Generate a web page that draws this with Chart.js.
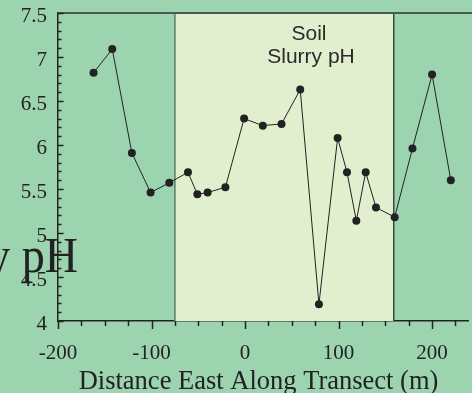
<!DOCTYPE html>
<html>
<head>
<meta charset="utf-8">
<script src="https://cdn.jsdelivr.net/npm/chart.js@4"></script>
<style>
  html, body { margin: 0; padding: 0; background: #9dd4b0; }
  canvas { display: block; }
</style>
</head>
<body>
<canvas id="chart" width="472" height="393"></canvas>
<script>
// transect distances (m) and slurry pH readings
const distance = [-162, -142, -121, -101, -81, -61, -51, -40, -21, -1, 19, 39, 59, 79, 99, 109, 119, 129, 140, 160, 179, 200, 220];
const slurryPH = [6.82, 7.09, 5.91, 5.46, 5.57, 5.69, 5.44, 5.46, 5.52, 6.30, 6.22, 6.24, 6.63, 4.19, 6.08, 5.69, 5.14, 5.69, 5.29, 5.18, 5.96, 6.80, 5.60];
const xTicks = [-200, -100, 0, 100, 200];
const yTicks = [4, 4.5, 5, 5.5, 6, 6.5, 7, 7.5];
// soil zone along the transect
const soilZone = [-75, 159];

const ink = '#222';

const bandPlugin = {
  id: 'band',
  beforeDatasetsDraw(chart) {
    const { ctx, chartArea: a, scales: { x } } = chart;
    const x0 = x.getPixelForValue(soilZone[0]);
    const x1 = x.getPixelForValue(soilZone[1]);
    ctx.save();
    ctx.fillStyle = '#e2efcf';
    ctx.fillRect(x0, a.top, x1 - x0, a.bottom - a.top);
    ctx.lineWidth = 1.5;
    ctx.strokeStyle = '#5d7a65';
    ctx.beginPath();
    ctx.moveTo(x0, a.top); ctx.lineTo(x0, a.bottom);
    ctx.stroke();
    ctx.strokeStyle = '#3c4a42';
    ctx.beginPath();
    ctx.moveTo(x1, a.top); ctx.lineTo(x1, a.bottom);
    ctx.stroke();
    ctx.strokeStyle = '#4a5a50';
    ctx.lineWidth = 2;
    ctx.beginPath();
    ctx.moveTo(a.left, a.top); ctx.lineTo(472, a.top);
    ctx.stroke();

    ctx.fillStyle = '#2a2a2a';
    ctx.font = '21px "Liberation Sans"';
    ctx.textAlign = 'center';
    ctx.textBaseline = 'alphabetic';
    ctx.fillText('Soil', 309, 40);
    ctx.fillText('Slurry pH', 311, 63);
    ctx.restore();
  },
  afterDraw(chart) {
    const { ctx, chartArea: a, scales: { x, y } } = chart;
    ctx.save();
    ctx.strokeStyle = ink;
    ctx.lineWidth = 1.5;
    // y ticks point into the plot, minor every 0.1
    for (let i = 0; i <= 35; i++) {
      const v = 4 + i * 0.1;
      const py = Math.round(y.getPixelForValue(v)) + 0.5;
      const len = i % 5 === 0 ? 5.5 : 3.5;
      ctx.beginPath();
      ctx.moveTo(a.left, py); ctx.lineTo(a.left + len, py);
      ctx.stroke();
    }
    // x ticks hang below the axis, minor every 25
    for (let v = -200; v <= 238; v += 25) {
      const px = Math.round(x.getPixelForValue(v)) + 0.5;
      const len = v % 100 === 0 ? 8 : 5;
      ctx.beginPath();
      ctx.moveTo(px, a.bottom); ctx.lineTo(px, a.bottom + len);
      ctx.stroke();
    }
    ctx.fillStyle = ink;
    // x axis title
    ctx.font = '26.5px "Liberation Serif"';
    ctx.textAlign = 'center';
    ctx.fillText('Distance East Along Transect (m)', 258.5, 389);
    // y axis title, stretched a little vertically
    ctx.font = '46px "Liberation Serif"';
    ctx.textAlign = 'right';
    ctx.translate(78, 272);
    ctx.scale(1, 1.12);
    ctx.fillText('Slurry pH', 0, 0);
    ctx.restore();
  }
};

new Chart(document.getElementById('chart').getContext('2d'), {
  type: 'line',
  data: {
    datasets: [{
      data: distance.map((d, i) => ({ x: d, y: slurryPH[i] })),
      borderColor: ink,
      borderWidth: 1,
      backgroundColor: ink,
      pointRadius: 4,
      pointBorderWidth: 0,
      tension: 0
    }]
  },
  options: {
    responsive: false,
    animation: false,
    layout: { padding: { top: 13, right: 0, left: 0, bottom: 0 } },
    plugins: { legend: { display: false }, tooltip: { enabled: false } },
    scales: {
      x: {
        type: 'linear',
        min: -200,
        max: 238.4,
        afterBuildTicks: s => { s.ticks = xTicks.map(v => ({ value: v })); },
        afterFit: s => { s.height = 72; },
        grid: { display: false },
        border: { color: ink, width: 1.5 },
        ticks: { color: ink, font: { family: 'Liberation Serif', size: 21 }, padding: 12, maxRotation: 0 }
      },
      y: {
        min: 4,
        max: 7.5,
        afterBuildTicks: s => { s.ticks = yTicks.map(v => ({ value: v })); },
        afterFit: s => { s.width = 58; s.paddingTop = 0; s.paddingBottom = 0; },
        grid: { display: false },
        border: { color: ink, width: 1.5 },
        ticks: { color: ink, font: { family: 'Liberation Serif', size: 21 }, padding: 3, labelOffset: 3, callback: v => String(v) }
      }
    }
  },
  plugins: [bandPlugin]
});
</script>
</body>
</html>
